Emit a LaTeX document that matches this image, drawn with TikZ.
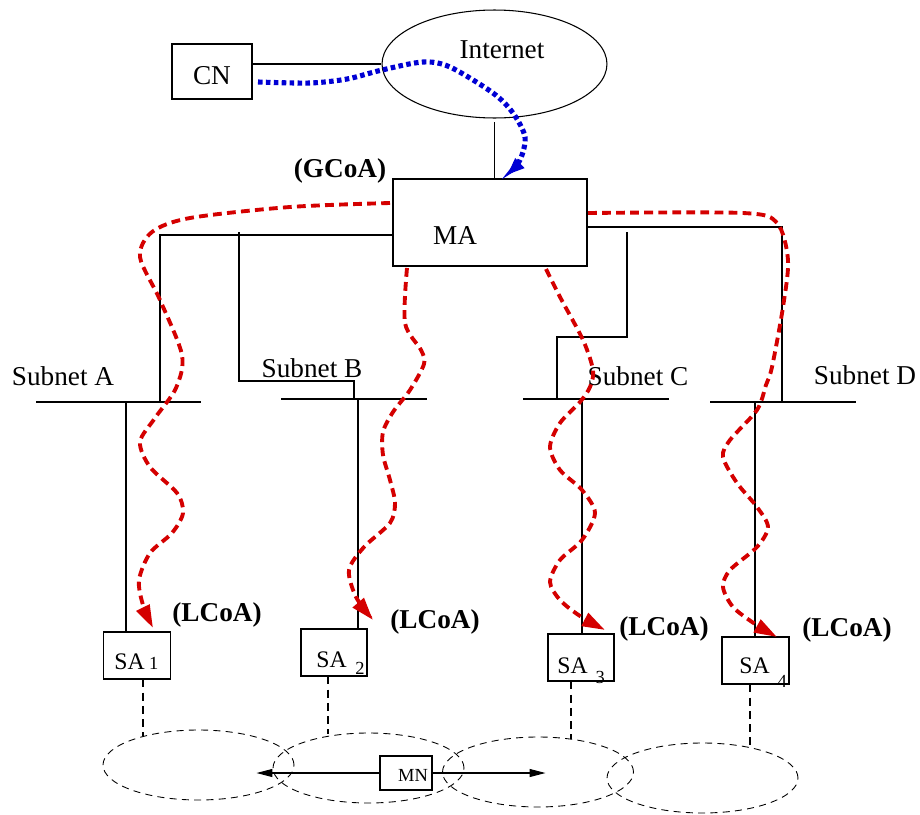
\documentclass[tikz,border=0pt]{standalone}
\usepackage{fontspec}
\setmainfont{Liberation Serif}
\usetikzlibrary{arrows.meta,shapes.geometric}
\definecolor{pathred}{RGB}{212,0,0}
\definecolor{pathblue}{RGB}{0,0,212}
\tikzset{
  wire/.style={line width=0.6pt},
  box/.style={draw,line width=0.6pt,inner sep=0pt,minimum width=1.34cm,minimum height=0.94cm},
  lbl/.style={inner sep=0pt,font=\fontsize{15.5}{18}\selectfont},
  tag/.style={inner sep=0pt,font=\bfseries\fontsize{15.5}{18}\selectfont},
  satxt/.style={inner sep=0pt,anchor=base west,font=\fontsize{13.5}{15}\selectfont},
  cell/.style={draw,ellipse,dash pattern=on 4pt off 3pt,line width=0.5pt,inner sep=0pt,minimum width=3.82cm,minimum height=1.4cm},
  drop/.style={dash pattern=on 4.5pt off 3pt,line width=0.8pt},
  redpath/.style={pathred,line width=2.2pt,dash pattern=on 5pt off 3pt,-{Triangle[length=13pt,width=8pt]}},
  bluepath/.style={pathblue,line width=2.9pt,dash pattern=on 2.6pt off 1.9pt,-{Triangle[length=10pt,width=7pt]}},
  mnarrow/.style={wire,-{Triangle[length=9pt,width=4.5pt]}}
}
\begin{document}
\begin{tikzpicture}[x=0.02cm,y=-0.02cm]
\useasboundingbox (0,0) rectangle (920,815);
% core
\node[draw,ellipse,wire,inner sep=0pt,minimum width=4.5cm,minimum height=2.16cm] (inet) at (494.5,64) {};
\node[lbl] (inettxt) at (502,50) {Internet};
\node[box,minimum width=1.6cm,minimum height=1.1cm] (cn) at (212,71.5) {};
\node[lbl] (cntxt) at (212,76) {CN};
\node[box,minimum width=3.88cm,minimum height=1.74cm] (ma) at (490,222.5) {};
\node[lbl] (matxt) at (455,236) {MA};
\node[tag] (gcoa) at (340,171) {(GCoA)};
\draw[wire] (cn.east |- inet.west) -- (inet.west);
\draw[wire] ([yshift=-2pt]inet.south) -- (inet.south |- ma.north);

% subnets
\coordinate (a1) at (36,402);  \coordinate (a2) at (201,402);
\coordinate (b1) at (281,399); \coordinate (b2) at (427,399);
\coordinate (c1) at (523,399); \coordinate (c2) at (669,399);
\coordinate (d1) at (710,402); \coordinate (d2) at (856,402);
\draw[wire] (a1) -- (a2);
\draw[wire] (b1) -- (b2);
\draw[wire] (c1) -- (c2);
\draw[wire] (d1) -- (d2);
\node[lbl] (suba) at (63,376) {Subnet A};
\node[lbl] (subb) at (312,368) {Subnet B};
\node[lbl] (subc) at (638,376) {Subnet C};
\node[lbl] (subd) at (865,375) {Subnet D};

\coordinate (ja) at (160,235);
\coordinate (jb) at (239,232); \coordinate (kb) at (354,381);
\coordinate (jc) at (627,232); \coordinate (kc) at (557,337);
\coordinate (jd) at (782,227);
\draw[wire] (ja -| ma.west) -- (ja) -- (ja |- a1);
\draw[wire] (jb) -- (jb |- kb) -- (kb) -- (kb |- b1);
\draw[wire] (jd -| ma.east) -- (jd) -- (jd |- d1);
\draw[wire] (jc) -- (jc |- kc) -- (kc) -- (kc |- c1);

% agents
\node[box] (sa1) at (137,655.5) {};
\node[box,minimum width=1.32cm] (sa2) at (334,652.5) {};
\node[box,minimum width=1.32cm] (sa3) at (581,657.5) {};
\node[box] (sa4) at (755.5,660.5) {};
\node[satxt] (sa1txt) at (114,669) {SA\hspace{2.5pt}{\fontsize{10.5}{12}\selectfont 1}};
\node[satxt] (sa2txt) at (316,667) {SA\hspace{5pt}\raisebox{-4.5pt}{\fontsize{10.5}{12}\selectfont 2}};
\node[satxt] (sa3txt) at (557,673) {SA\hspace{4.5pt}\raisebox{-6pt}{\fontsize{10.5}{12}\selectfont 3}};
\node[satxt] (sa4txt) at (739,673) {SA\hspace{4.5pt}\raisebox{-8pt}{\fontsize{10.5}{12}\selectfont 4}};
\node[tag] (lcoa1) at (217,615) {(LCoA)};
\node[tag] (lcoa2) at (435,622) {(LCoA)};
\node[tag] (lcoa3) at (664,629) {(LCoA)};
\node[tag] (lcoa4) at (847,630) {(LCoA)};

\coordinate (ta) at (126,402); \coordinate (tb) at (358,399);
\coordinate (tc) at (582,399); \coordinate (td) at (755,402);
\draw[wire] (ta) -- (ta |- sa1.north);
\draw[wire] (tb) -- (tb |- sa2.north);
\draw[wire] (tc) -- (tc |- sa3.north);
\draw[wire] (td) -- (td |- sa4.north);

% cells
\node[cell] (cella) at (198.5,765) {};
\node[cell] (cellb) at (368.5,768) {};
\node[cell] (cellc) at (538,772) {};
\node[cell] (celld) at (702.5,778) {};
\coordinate (ea) at (143,736); \coordinate (eb) at (328,734);
\coordinate (ec) at (571,739); \coordinate (ed) at (750,745);
\draw[drop] (ea |- sa1.south) -- (ea);
\draw[drop] (eb |- sa2.south) -- (eb);
\draw[drop] (ec |- sa3.south) -- (ec);
\draw[drop] (ed |- sa4.south) -- (ed);

\node[box,minimum width=1.04cm,minimum height=0.68cm] (mn) at (406,773) {};
\node[inner sep=0pt,font=\fontsize{10.5}{12}\selectfont] (mntxt) at (413,775) {MN};
\draw[mnarrow] (mn.west) -- ++(-123,0);
\draw[mnarrow] (mn.east) -- ++(113,0);

% packet paths
\coordinate (bs) at (258,82); \coordinate (bt) at (507,175);
\draw[bluepath] plot[smooth] coordinates {(bs) (310,83) (347,79) (382,70) (423,62) (450,67) (493,93) (513,113) (525,137) (520,160) (bt)};

\coordinate (ra) at (390,203); \coordinate (rta) at (153,628);
\draw[redpath] plot[smooth] coordinates {(ra) (290,207) (190,218) (152,232) (140,257) (160,300) (182,355) (176,388) (155,418) (140,442) (150,467) (177,493) (183,513) (172,533) (150,553) (139,580) (143,605) (rta)};
\coordinate (rb) at (407,268); \coordinate (rtb) at (373,620);
\draw[redpath] plot[smooth] coordinates {(rb) (405,323) (421,350) (424,364) (410,390) (393,412) (383,432) (383,455) (390,480) (395,503) (390,523) (364,547) (349,570) (356,597) (rtb)};
\coordinate (rc) at (546,269); \coordinate (rtc) at (605,630);
\draw[redpath] plot[smooth] coordinates {(rc) (560,297) (583,340) (593,370) (590,387) (580,402) (560,423) (550,447) (560,470) (582,490) (595,513) (582,540) (560,560) (550,582) (560,600) (580,616) (rtc)};
\coordinate (rd) at (588,213); \coordinate (rtd) at (777,637);
\draw[redpath] plot[smooth] coordinates {(rd) (743,213) (777,223) (788,260) (783,307) (772,367) (766,385) (757,410) (730,440) (723,457) (737,483) (757,507) (768,527) (757,547) (730,570) (723,587) (733,607) (755,624) (rtd)};
\end{tikzpicture}
\end{document}
